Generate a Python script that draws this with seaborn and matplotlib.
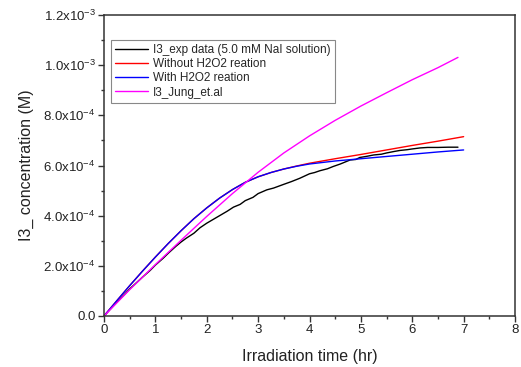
import matplotlib
matplotlib.use("Agg")
import matplotlib.pyplot as plt
import seaborn as sns
import pandas as pd
from matplotlib.ticker import MultipleLocator, FixedLocator, FixedFormatter

# ---- data (concentrations in units of 1e-4 M) ----
t_exp = [0, 0.1, 0.25, 0.4, 0.5, 0.65, 0.75, 0.9, 1.0, 1.15, 1.25, 1.4, 1.5, 1.6, 1.75, 1.87,
         2.0, 2.1, 2.25, 2.4, 2.52, 2.65, 2.75, 2.9, 3.0, 3.17, 3.3, 3.5, 3.65, 3.81, 4.0, 4.1,
         4.2, 4.35, 4.46, 4.6, 4.79, 4.9, 4.98, 5.1, 5.25, 5.4, 5.5, 5.65, 5.76, 5.9, 6.0,
         6.15, 6.3, 6.5, 6.7, 6.89]
c_exp = [0, 0.22, 0.55, 0.86, 1.08, 1.36, 1.55, 1.82, 2.03, 2.30, 2.50, 2.78, 2.95, 3.10, 3.30, 3.52,
         3.70, 3.82, 4.00, 4.18, 4.34, 4.45, 4.60, 4.73, 4.88, 5.03, 5.10, 5.25, 5.36, 5.49, 5.67, 5.72,
         5.79, 5.87, 5.96, 6.06, 6.22, 6.24, 6.32, 6.36, 6.42, 6.45, 6.50, 6.56, 6.60, 6.63, 6.66,
         6.70, 6.72, 6.72, 6.73, 6.73]

t_with = [0, 0.25, 0.5, 0.75, 1.0, 1.25, 1.5, 1.75, 2.0, 2.25, 2.5, 2.75, 3.0, 3.25, 3.5,
          3.75, 4.0, 4.5, 5.0, 5.5, 6.0, 6.5, 7.0]
c_with = [0, 0.61, 1.21, 1.79, 2.35, 2.89, 3.40, 3.88, 4.31, 4.70, 5.04, 5.33, 5.55, 5.72, 5.86,
          5.97, 6.06, 6.18, 6.27, 6.36, 6.45, 6.54, 6.62]

t_without = [0, 0.25, 0.5, 0.75, 1.0, 1.25, 1.5, 1.75, 2.0, 2.25, 2.5, 2.75, 3.0, 3.25, 3.5,
             3.75, 4.0, 4.5, 5.0, 5.5, 6.0, 6.5, 7.0]
c_without = [0, 0.61, 1.21, 1.79, 2.35, 2.89, 3.40, 3.88, 4.31, 4.70, 5.04, 5.33, 5.55, 5.72, 5.86,
             5.98, 6.09, 6.27, 6.44, 6.62, 6.80, 6.97, 7.15]

t_jung = [0, 0.5, 1.0, 1.5, 2.0, 2.5, 3.0, 3.5, 4.0, 4.5, 5.0, 5.5, 6.0, 6.5, 6.89]
c_jung = [0, 1.05, 2.05, 3.02, 3.97, 4.88, 5.73, 6.5, 7.18, 7.8, 8.37, 8.9, 9.42, 9.9, 10.31]

labels = ["I3_exp data (5.0 mM NaI solution)", "Without H2O2 reation",
          "With H2O2 reation", "I3_Jung_et.al"]
colors = ["#000000", "#FF0000", "#0000FF", "#FF00FF"]

y_ticks = [0, 2e-4, 4e-4, 6e-4, 8e-4, 1.0e-3, 1.2e-3]
y_ticklabels = ["0.0", r"2.0x10$^{-4}$", r"4.0x10$^{-4}$", r"6.0x10$^{-4}$",
                r"8.0x10$^{-4}$", r"1.0x10$^{-3}$", r"1.2x10$^{-3}$"]
x_ticks = [0, 1, 2, 3, 4, 5, 6, 7, 8]

sns.set_style("ticks")
plt.rcParams["font.family"] = ["Liberation Sans", "DejaVu Sans"]
plt.rcParams["mathtext.fontset"] = "custom"
plt.rcParams["mathtext.rm"] = "Liberation Sans"
plt.rcParams["mathtext.it"] = "Liberation Sans:italic"

fig = plt.figure(figsize=(5.21, 3.67), dpi=100)
ax = fig.add_axes([104 / 521, 1 - 316 / 367, 411 / 521, 301 / 367])

series = [(t_exp, c_exp), (t_without, c_without), (t_with, c_with), (t_jung, c_jung)]
for (tx, cy), lab, col in zip(series, labels, colors):
    df = pd.DataFrame({"t": tx, "c": [v * 1e-4 for v in cy]})
    sns.lineplot(data=df, x="t", y="c", ax=ax, color=col, linewidth=1.0, label=lab,
                 estimator=None, sort=False)

ax.set_xlim(0, 8)
ax.set_ylim(0, 1.2e-3)
ax.xaxis.set_major_locator(FixedLocator(x_ticks))
ax.xaxis.set_minor_locator(MultipleLocator(0.5))
ax.yaxis.set_major_locator(FixedLocator(y_ticks))
ax.yaxis.set_major_formatter(FixedFormatter(y_ticklabels))
ax.yaxis.set_minor_locator(MultipleLocator(1e-4))

for s in ax.spines.values():
    s.set_color("#333333")
    s.set_linewidth(1.1)
ax.tick_params(which="major", direction="out", length=4, width=1.0, color="#333333",
               labelsize=9.5, labelcolor="#222222", pad=2)
ax.tick_params(which="minor", direction="out", length=2.5, width=1.0, color="#333333")

ax.set_xlabel("Irradiation time (hr)", fontsize=11.5, color="#222222", labelpad=9)
ax.set_ylabel("I3_ concentration (M)", fontsize=11.5, color="#222222", labelpad=7)

leg = ax.legend(loc="upper left", bbox_to_anchor=(7 / 411, 1 - 25 / 301), fontsize=8.5,
                frameon=True, fancybox=False, framealpha=1, edgecolor="#888888",
                handlelength=2.8, handletextpad=0.4, borderpad=0.35, labelspacing=0.18,
                borderaxespad=0)
leg.get_frame().set_linewidth(0.8)

fig.savefig("out.png", dpi=100)
